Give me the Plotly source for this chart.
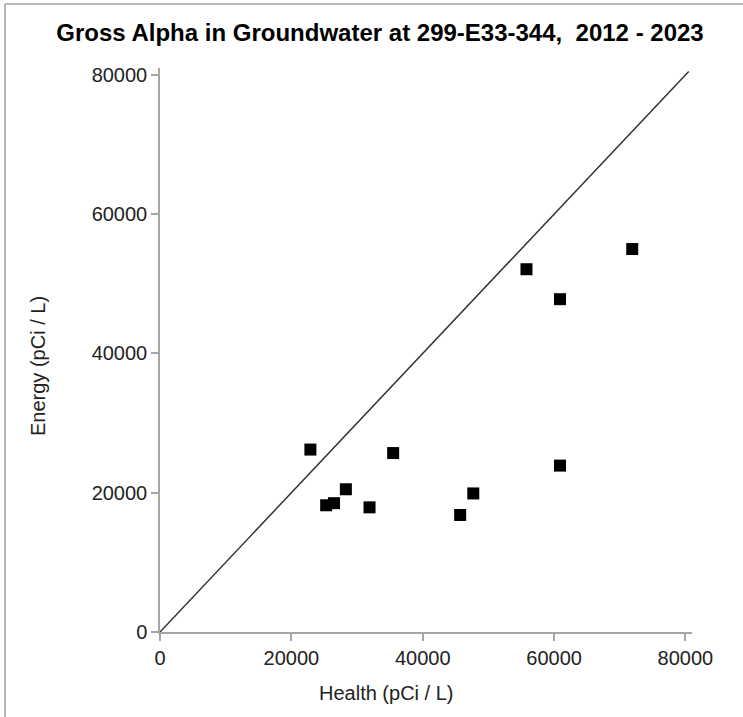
import plotly.graph_objects as go

# Data
health = [22900, 25300, 26500, 28300, 31900, 35500, 45700, 47700, 55800, 60900, 60900, 71900]
energy = [26200, 18200, 18500, 20500, 17900, 25700, 16800, 19900, 52100, 47800, 23900, 55000]
ref_line = [0, 80500]
tick_vals = [0, 20000, 40000, 60000, 80000]
tick_text = ["0", "20000", "40000", "60000", "80000"]

title_text = "Gross Alpha in Groundwater at 299-E33-344,  2012 - 2023"
x_title = "Health (pCi / L)"
y_title = "Energy (pCi / L)"

W, H = 743, 717
L, R, T, B = 160, 51, 68, 85
pw, ph = W - L - R, H - T - B

def px_x(p):
    return (p - L) / pw

def px_y(p):
    return (H - B - p) / ph

fig = go.Figure()
fig.add_trace(go.Scatter(x=ref_line, y=ref_line, mode="lines",
                         line=dict(color="#333333", width=1.5),
                         hoverinfo="skip", showlegend=False))
fig.add_trace(go.Scatter(x=health, y=energy, mode="markers",
                         marker=dict(symbol="square", size=12, color="black",
                                     line=dict(width=0)),
                         showlegend=False))

axis_common = dict(
    range=[0, 81000], showgrid=False, zeroline=False,
    showline=True, linecolor="#a6a6a6", linewidth=1.5,
    ticks="outside", ticklen=7, tickwidth=1.5, tickcolor="#a6a6a6",
    tickmode="array", tickvals=tick_vals, ticktext=tick_text,
    tickfont=dict(family="Liberation Sans, Arial", size=20, color="#222"),
)

fig.update_layout(
    width=W, height=H,
    margin=dict(l=L, r=R, t=T, b=B, autoexpand=False),
    paper_bgcolor="white", plot_bgcolor="white",
    title=dict(text="<b>" + title_text + "</b>", x=380 / W, xanchor="center",
               y=1 - 33 / H, yanchor="middle",
               font=dict(family="Liberation Sans, Arial", size=24, color="black")),
    xaxis=dict(**axis_common),
    yaxis=dict(**axis_common),
    annotations=[
        dict(text=x_title, xref="paper", yref="paper", x=px_x(386), y=px_y(693),
             xanchor="center", yanchor="middle", showarrow=False,
             font=dict(family="Liberation Sans, Arial", size=20, color="#222")),
        dict(text=y_title, xref="paper", yref="paper", x=px_x(38), y=px_y(366),
             xanchor="center", yanchor="middle", showarrow=False, textangle=-90,
             font=dict(family="Liberation Sans, Arial", size=20, color="#222")),
    ],
    shapes=[
        dict(type="line", xref="paper", yref="paper",
             x0=px_x(5), x1=px_x(5), y0=px_y(4), y1=px_y(H + 5),
             line=dict(color="#a0a0a0", width=1.5)),
        dict(type="line", xref="paper", yref="paper",
             x0=px_x(5), x1=px_x(W + 5), y0=px_y(4), y1=px_y(4),
             line=dict(color="#a0a0a0", width=1.5)),
    ],
)

fig.write_html("out.html", config={"displayModeBar": False},
               post_script="document.body.style.margin='0px';")
